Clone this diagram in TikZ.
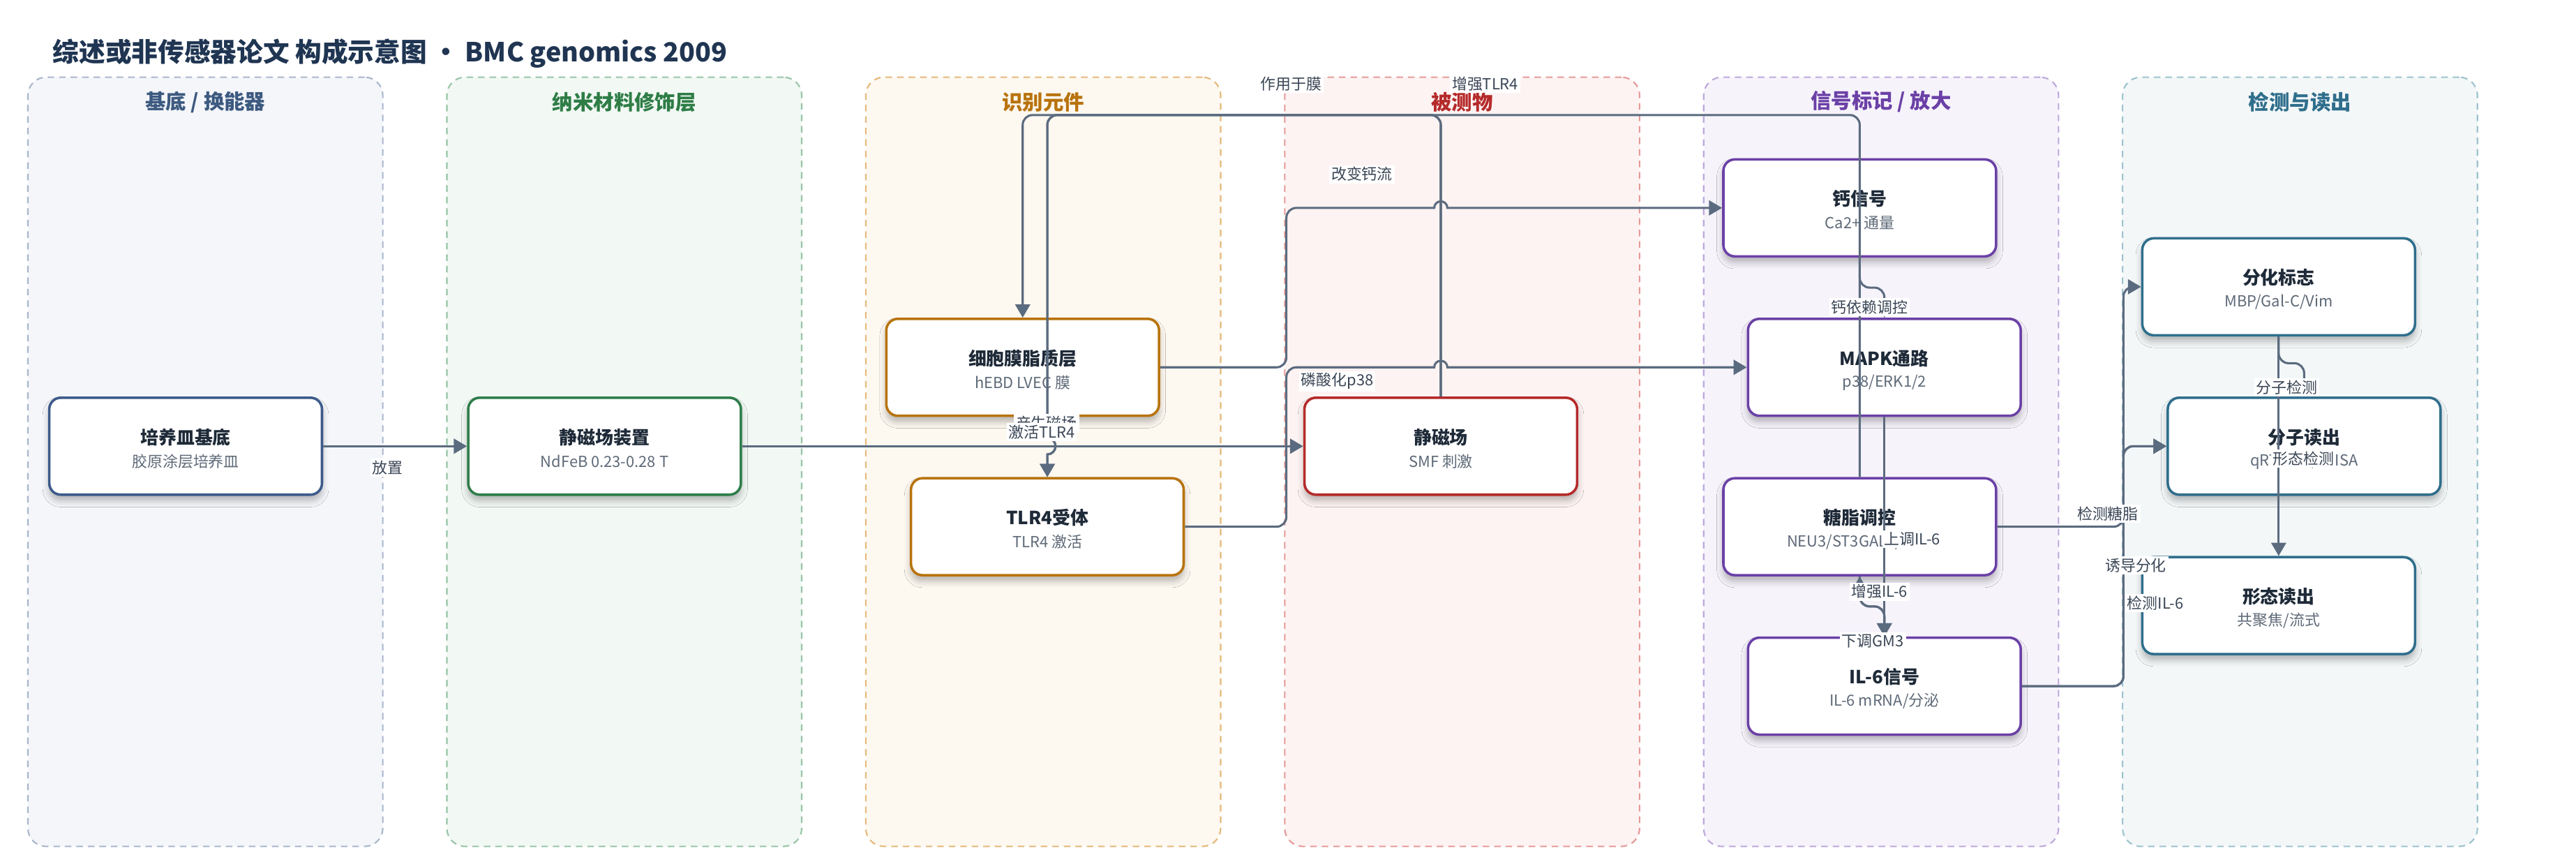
\documentclass[tikz,border=0pt]{standalone}
\usepackage{fontspec}
\setmainfont{Noto Sans CJK SC}
\usetikzlibrary{arrows.meta,shadows.blur}
\definecolor{edgec}{HTML}{5B6B7F}
\definecolor{ink}{HTML}{1E2A38}
\definecolor{subc}{HTML}{5E6A78}
\definecolor{lblc}{HTML}{3A4656}
\definecolor{titlec}{HTML}{1F3552}
% lanes
\definecolor{laA}{HTML}{F4F6FA}\definecolor{lbA}{HTML}{A9B6CB}\definecolor{ltA}{HTML}{3D5A80}
\definecolor{laB}{HTML}{F2F8F4}\definecolor{lbB}{HTML}{97C5A7}\definecolor{ltB}{HTML}{2E7D46}
\definecolor{laC}{HTML}{FDF8F0}\definecolor{lbC}{HTML}{E5B97A}\definecolor{ltC}{HTML}{B8730D}
\definecolor{laD}{HTML}{FDF3F2}\definecolor{lbD}{HTML}{E59A98}\definecolor{ltD}{HTML}{B52A2A}
\definecolor{laE}{HTML}{F6F3FB}\definecolor{lbE}{HTML}{BEA8DC}\definecolor{ltE}{HTML}{6B40A6}
\definecolor{laF}{HTML}{F3F7F8}\definecolor{lbF}{HTML}{9CC3CD}\definecolor{ltF}{HTML}{2F6E8C}
% node borders
\definecolor{cA}{HTML}{3D5A8A}
\definecolor{cB}{HTML}{2E7D4A}
\definecolor{cC}{HTML}{B8730D}
\definecolor{cD}{HTML}{B52A2A}
\definecolor{cE}{HTML}{6B40A6}
\definecolor{cF}{HTML}{2F6E8C}
\newcommand{\blk}[6]{%
  \node[box, draw=#4] (#1) at (#2,#3) {};
  \node[ttl] (#1t) at ([yshift=5.5pt]#1.center) {#5};
  \node[sub] (#1s) at ([yshift=-9.2pt]#1.center) {#6};}
\begin{document}
\begin{tikzpicture}[x=1pt,y=-1pt,
  lane/.style={rounded corners=11pt, dash pattern=on 4pt off 3pt, line width=0.9pt, minimum width=216pt, minimum height=468pt, inner sep=0pt},
  lanetitle/.style={font=\bfseries\fontsize{12.5}{14}\selectfont, inner sep=0pt},
  box/.style={rounded corners=7pt, line width=1.5pt, fill=white, minimum width=166pt, minimum height=59pt, inner sep=0pt,
    blur shadow={shadow xshift=0pt, shadow yshift=-3.5pt, shadow blur radius=4pt, shadow opacity=28}},
  ttl/.style={font=\bfseries\fontsize{11}{13}\selectfont, text=ink, inner sep=0pt},
  sub/.style={font=\fontsize{9.3}{11}\selectfont, text=subc, inner sep=0pt},
  conn/.style={draw=edgec, line width=1.3pt, rounded corners=6pt, -{Triangle[length=8pt,width=9pt]}},
  lbl/.style={fill=white, inner sep=1.2pt, font=\fontsize{9.3}{11}\selectfont, text=lblc}]
\useasboundingbox (0,0) rectangle (1568,524.5);
\fill[white] (0,0) rectangle (1568,524.5);

% title
\node[anchor=west, font=\bfseries\fontsize{16}{19}\selectfont, text=titlec, inner sep=0pt] (title) at (32,32.6)
  {综述或非传感器论文 构成示意图 • BMC genomics 2009};

% lanes
\node[lane, fill=laA, draw=lbA] (L1) at (125,281) {};
\node[lanetitle, text=ltA] (L1t) at (125,62) {基底 / 换能器};
\node[lane, fill=laB, draw=lbB] (L2) at (380,281) {};
\node[lanetitle, text=ltB] (L2t) at (380,62) {纳米材料修饰层};
\node[lane, fill=laC, draw=lbC] (L3) at (635,281) {};
\node[lanetitle, text=ltC] (L3t) at (635,62) {识别元件};
\node[lane, fill=laD, draw=lbD] (L4) at (890,281) {};
\node[lanetitle, text=ltD] (L4t) at (890,62) {被测物};
\node[lane, fill=laE, draw=lbE] (L5) at (1145,281) {};
\node[lanetitle, text=ltE] (L5t) at (1145,62) {信号标记 / 放大};
\node[lane, fill=laF, draw=lbF] (L6) at (1400,281) {};
\node[lanetitle, text=ltF] (L6t) at (1400,62) {检测与读出};

% nodes
\blk{n1}{113}{271.5}{cA}{培养皿基底}{胶原涂层培养皿}
\blk{n2}{368}{271.5}{cB}{静磁场装置}{NdFeB 0.23-0.28 T}
\blk{n3}{622.5}{223.5}{cC}{细胞膜脂质层}{hEBD LVEC 膜}
\blk{n4}{637.5}{320.5}{cC}{TLR4受体}{TLR4 激活}
\blk{n5}{877}{271.5}{cD}{静磁场}{SMF 刺激}
\blk{n6}{1132}{126.5}{cE}{钙信号}{Ca2+ 通量}
\blk{n7}{1147}{223.5}{cE}{MAPK通路}{p38/ERK1/2}
\blk{n8}{1132}{320.5}{cE}{糖脂调控}{NEU3/ST3GAL5/GM3}
\blk{n9}{1147}{417.5}{cE}{IL-6信号}{IL-6 mRNA/分泌}
\blk{n10}{1387}{174.5}{cF}{分化标志}{MBP/Gal-C/Vim}
\blk{n11}{1402.5}{271.5}{cF}{分子读出}{qRT-PCR/ELISA}
\blk{n12}{1387}{368.5}{cF}{形态读出}{共聚焦/流式}

\coordinate (top) at (0,70);

% connectors
\draw[conn] (n1.east) -- (n2.west);
\draw[conn] (n2.east) -- (n5.west);
\draw[conn] (n5.north) -- (n5.north |- top) -- (n3.north |- top) -- (n3.north);
\draw[conn] (n5.north) -- (n5.north |- top) -- (n4.north |- top) -- (637.5,200) [sharp corners] -- (637.5,266.5) arc (-90:90:5) [rounded corners=6pt] -- (n4.north);
\draw[conn] (n8.north) -- (n8.north |- top) -- (n4.north |- top) -- (637.5,200) [sharp corners] -- (637.5,266.5) arc (-90:90:5) [rounded corners=6pt] -- (n4.north);
\draw[conn] (n3.east) -- (783,223.5) -- (783,126.5) -- (830,126.5) [sharp corners] -- (873,126.5) arc (180:360:4) [rounded corners=6pt] -- (n6.west);
\draw[conn] (n4.east) -- (783,320.5) -- (783,223.5) -- (830,223.5) [sharp corners] -- (873,223.5) arc (180:360:4) [rounded corners=6pt] -- (n7.west);
\draw[conn] (n6.south) -- (1132,175) -- (1147,175) -- (n7.north);
\draw[conn] (n7.south) -- (n9.north);
\draw[conn] (n9.north) -- (1147,369) -- (1132,369) -- (n8.south);
\draw[conn] (n8.south) -- (1132,369) -- (1147,369) -- (n9.north);
\draw[conn] (n8.east) -- (1292.5,320.5) -- (1292.5,271.5) -- (n11.west);
\draw[conn] (n9.east) -- (1292.5,417.5) -- (1292.5,174.5) -- (n10.west);
\draw[conn] (n9.east) -- (1292.5,417.5) -- (1292.5,271.5) -- (n11.west);
\draw[conn] (n10.south) -- (1387,221) -- (1402.5,221) -- (n11.north);
\draw[conn] (n10.south) -- (n12.north);

% labels
\node[lbl] (l1) at (236,284.6) {放置};
\node[lbl] (l2) at (637,257.5) {产生磁场};
\node[lbl] (l4) at (634,263) {激活TLR4};
\node[lbl] (l3) at (786,51) {作用于膜};
\node[lbl] (l5) at (904,51) {增强TLR4};
\node[lbl] (l6) at (829,106) {改变钙流};
\node[lbl] (l7) at (814,232) {磷酸化p38};
\node[lbl] (l8) at (1138,187) {钙依赖调控};
\node[lbl] (l9) at (1164,328) {上调IL-6};
\node[lbl] (l10) at (1144,360) {增强IL-6};
\node[lbl] (l11) at (1140,390) {下调GM3};
\node[lbl] (l12) at (1283,312.6) {检测糖脂};
\node[lbl] (l13) at (1300,344) {诱导分化};
\node[lbl] (l14) at (1312,367) {检测IL-6};
\node[lbl] (l15) at (1392,235.7) {分子检测};
\node[lbl] (l16) at (1402,279) {形态检测};
\end{tikzpicture}
\end{document}
